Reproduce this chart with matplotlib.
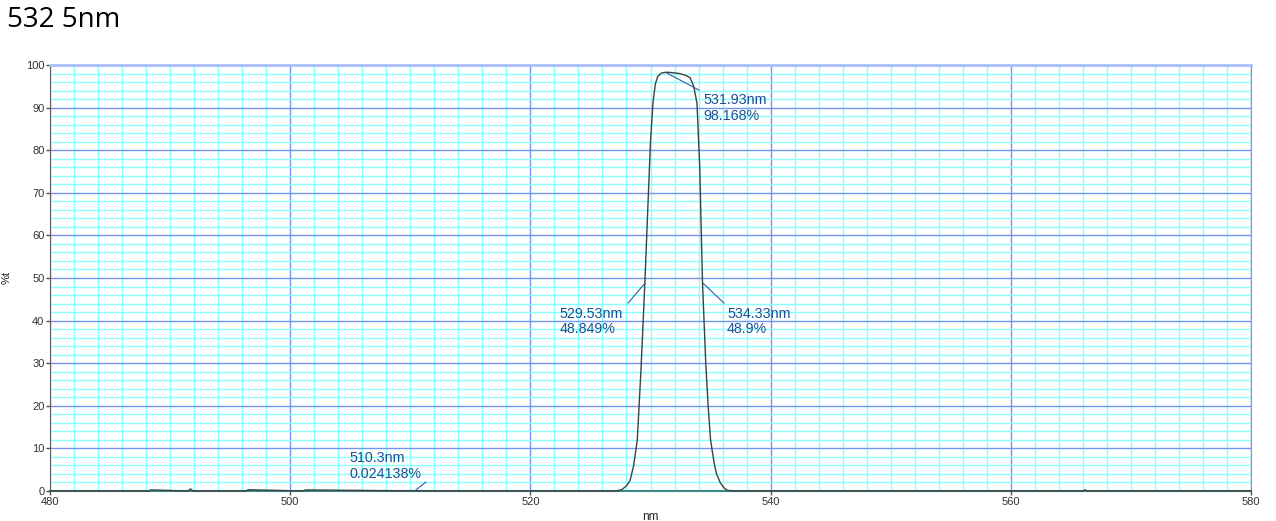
import matplotlib
matplotlib.use("Agg")
import matplotlib.pyplot as plt
from matplotlib.ticker import MultipleLocator

# Data
wavelength = [480, 488.2, 488.4, 491.5, 491.7, 491.9, 496.3, 496.5, 501.0, 501.3,
              510.3, 526.5, 527.2, 527.6, 528.0, 528.3, 528.6, 528.9, 529.2, 529.53,
              529.8, 530.0, 530.2, 530.4, 530.6, 530.9, 531.3, 531.6, 531.93, 532.4,
              532.9, 533.3, 533.6, 533.87, 534.1, 534.33, 534.6, 534.8, 535.0, 535.3,
              535.5, 535.8, 536.1, 536.4, 537.0, 560.0, 566.0, 566.2, 566.4, 580]
transmission = [0.0, 0.0, 0.25, 0.0, 0.5, 0.0, 0.0, 0.3, 0.0, 0.25,
                0.024, 0.0, 0.05, 0.3, 1.2, 2.5, 6.0, 12.0, 28.0, 48.849,
                68.0, 82.0, 91.0, 95.5, 97.3, 98.1, 98.3, 98.25, 98.168, 98.0,
                97.6, 97.0, 95.0, 91.0, 76.0, 48.9, 30.0, 20.0, 12.0, 6.5,
                4.0, 2.0, 0.8, 0.15, 0.0, 0.0, 0.0, 0.25, 0.0, 0.0]

annot_labels = ["510.3nm\n0.024138%", "531.93nm\n98.168%", "529.53nm\n48.849%", "534.33nm\n48.9%"]
annot_text_pos = [(504.9, 2.4), (534.37, 86.4), (522.45, 36.3), (536.37, 36.3)]
leader_start = [(510.4, 0.1), (531.37, 98.1), (529.54, 48.8), (534.37, 48.8)]
leader_end = [(511.3, 2.1), (534.04, 94.1), (528.13, 44.1), (536.12, 44.1)]

title = "532 5nm"

W, H = 1276, 521
fig = plt.figure(figsize=(W / 100, H / 100), dpi=100)
ax = fig.add_axes([50 / W, 1 - 491 / H, (1251 - 50) / W, (491 - 65) / H])

ax.set_xlim(480, 580)
ax.set_ylim(0, 100)
ax.xaxis.set_major_locator(MultipleLocator(20))
ax.xaxis.set_minor_locator(MultipleLocator(2))
ax.yaxis.set_major_locator(MultipleLocator(10))
ax.yaxis.set_minor_locator(MultipleLocator(2))
ax.grid(which="minor", color="#88ffff", lw=1.0, zorder=0)
ax.grid(which="major", color="#6f96f0", lw=1.0, zorder=1)
ax.set_axisbelow(True)

ax.tick_params(which="minor", length=0)
ax.tick_params(which="major", length=3, width=1, color="#505050",
               labelsize=8, labelcolor="#333333", pad=1)
for lab in ax.get_xticklabels() + ax.get_yticklabels():
    lab.set_family("Liberation Sans")

ax.spines["left"].set_color("#606060")
ax.spines["bottom"].set_color("#3a8a8a")
ax.spines["bottom"].set_linewidth(1.5)
ax.spines["top"].set_color("#a8c0ff")
ax.spines["top"].set_linewidth(2)
ax.spines["right"].set_color("#6f96f0")

ax.plot(wavelength, transmission, color="#404040", lw=1.0, zorder=3, clip_on=False)

for (tx, ty), lbl in zip(annot_text_pos, annot_labels):
    ax.text(tx, ty, lbl, color="#1f4f8f", fontsize=10.3, family="Liberation Sans",
            va="bottom", ha="left", linespacing=1.15, zorder=4)

for (x0, y0), (x1, y1) in zip(leader_start, leader_end):
    ax.plot([x0, x1], [y0, y1], color="#2f5f9f", lw=0.8, zorder=4)

ax.set_ylabel("%t", fontsize=8, family="Liberation Sans", color="#222222", labelpad=10)
ax.set_xlabel("nm", fontsize=8.5, family="Liberation Sans", color="#222222", labelpad=3)

fig.text(7 / W, 1 - 20 / H, title, fontsize=20, family="Open Sans", va="center", ha="left", color="black")

fig.savefig("out.png", dpi=100)
